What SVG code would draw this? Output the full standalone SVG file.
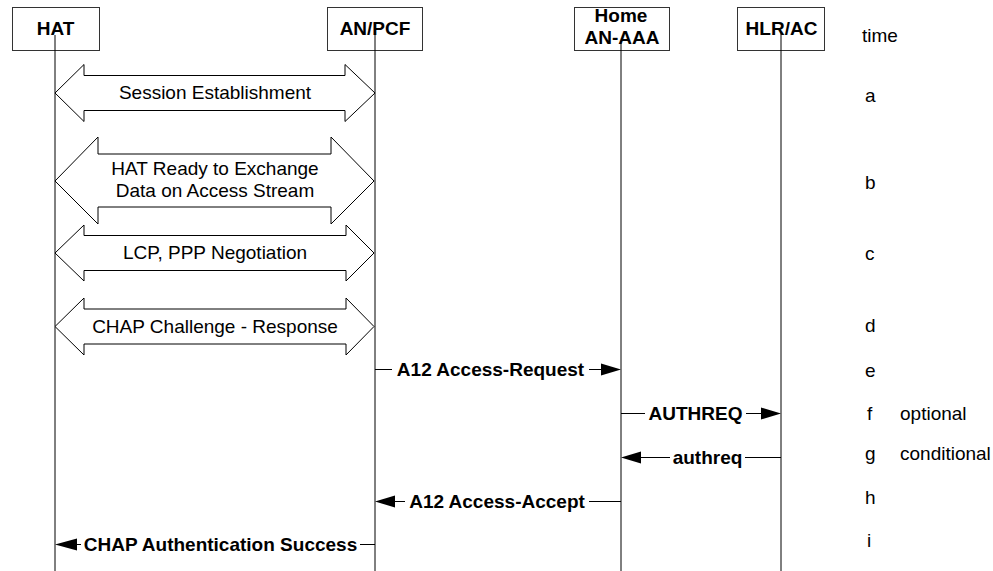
<svg xmlns="http://www.w3.org/2000/svg" width="993" height="571" viewBox="0 0 993 571">
<style>
text{font-family:"Liberation Sans",Arial,sans-serif;font-size:19px;fill:#000}
.b{font-weight:bold}
.m{text-anchor:middle}
.box{fill:#fff;stroke:#333;stroke-width:1}
.life{stroke:#000;stroke-width:1}
.blk{fill:#fff;stroke:#000;stroke-width:1}
.msg{stroke:#000;stroke-width:1;fill:none}
.head{fill:#000}
</style>
<rect width="993" height="571" fill="#fff"/>
<g id="HAT">
<rect class="box" x="12.5" y="7.5" width="87" height="43"/>
<text class="b m" x="55.5" y="35">HAT</text>
<line class="life" x1="55" y1="35" x2="55" y2="571"/>
</g>
<g id="ANPCF">
<rect class="box" x="327.5" y="7.5" width="95" height="43"/>
<text class="b m" x="375" y="35">AN/PCF</text>
<line class="life" x1="375" y1="32" x2="375" y2="571"/>
</g>
<g id="HomeANAAA">
<rect class="box" x="574.5" y="7.5" width="95" height="43"/>
<text class="b m" x="621" y="22">Home</text>
<text class="b m" x="622" y="44">AN-AAA</text>
<line class="life" x1="621" y1="43" x2="621" y2="571"/>
</g>
<g id="HLRAC">
<rect class="box" x="737.5" y="7.5" width="87" height="43"/>
<text class="b m" x="781.5" y="35">HLR/AC</text>
<line class="life" x1="781" y1="32" x2="781" y2="571"/>
</g>
<g id="time-labels">
<text x="862" y="42">time</text>
<text x="865" y="102">a</text>
<text x="865" y="189">b</text>
<text x="865" y="260">c</text>
<text x="865" y="332">d</text>
<text x="865" y="377">e</text>
<text x="867" y="420">f</text>
<text x="900" y="420">optional</text>
<text x="865" y="460">g</text>
<text x="900" y="460">conditional</text>
<text x="865" y="504">h</text>
<text x="867" y="547">i</text>
</g>
<g id="connectors">
<g id="session">
<polygon class="blk" points="55,93 84,64.5 84,75.5 345,75.5 345,64.5 375,93 345,121.5 345,110.5 84,110.5 84,121.5"/>
<text class="m" x="215" y="99">Session Establishment</text>
</g>
<g id="ready">
<polygon class="blk" points="55,181 98,137 98,154 331,154 331,137 374,181 331,224 331,207 98,207 98,224"/>
<text class="m" x="215" y="175">HAT Ready to Exchange</text>
<text class="m" x="215" y="197">Data on Access Stream</text>
</g>
<g id="lcp">
<polygon class="blk" points="55,253 84,225 84,235.5 346,235.5 346,225 374,253 346,281 346,270.5 84,270.5 84,281"/>
<text class="m" x="215" y="259">LCP, PPP Negotiation</text>
</g>
<g id="chap">
<polygon class="blk" points="55,326.5 84,298 84,309 346,309 346,298 374,326.5 346,355 346,344 84,344 84,355"/>
<text class="m" x="215" y="333">CHAP Challenge - Response</text>
</g>
<g id="m-e">
<path class="msg" d="M375 369.5H392M589 369.5H603"/>
<polygon class="head" points="601,363.5 621,369.5 601,375.5"/>
<text class="b m" x="490.5" y="376">A12 Access-Request</text>
</g>
<g id="m-f">
<path class="msg" d="M621 413.5H645M746 413.5H763"/>
<polygon class="head" points="761,407.5 781,413.5 761,419.5"/>
<text class="b m" x="695.5" y="420">AUTHREQ</text>
</g>
<g id="m-g">
<path class="msg" d="M639 457.5H670M745 457.5H781"/>
<polygon class="head" points="641,451.5 621,457.5 641,463.5"/>
<text class="b m" x="707.5" y="464">authreq</text>
</g>
<g id="m-h">
<path class="msg" d="M393 501.5H405M589 501.5H621"/>
<polygon class="head" points="395,495.5 375,501.5 395,507.5"/>
<text class="b m" x="497" y="508">A12 Access-Accept</text>
</g>
<g id="m-i">
<path class="msg" d="M75 544.5H81M360 544.5H375"/>
<polygon class="head" points="77,538.5 55,544.5 77,550.5"/>
<text class="b m" x="220.5" y="551">CHAP Authentication Success</text>
</g>
</g>
</svg>
